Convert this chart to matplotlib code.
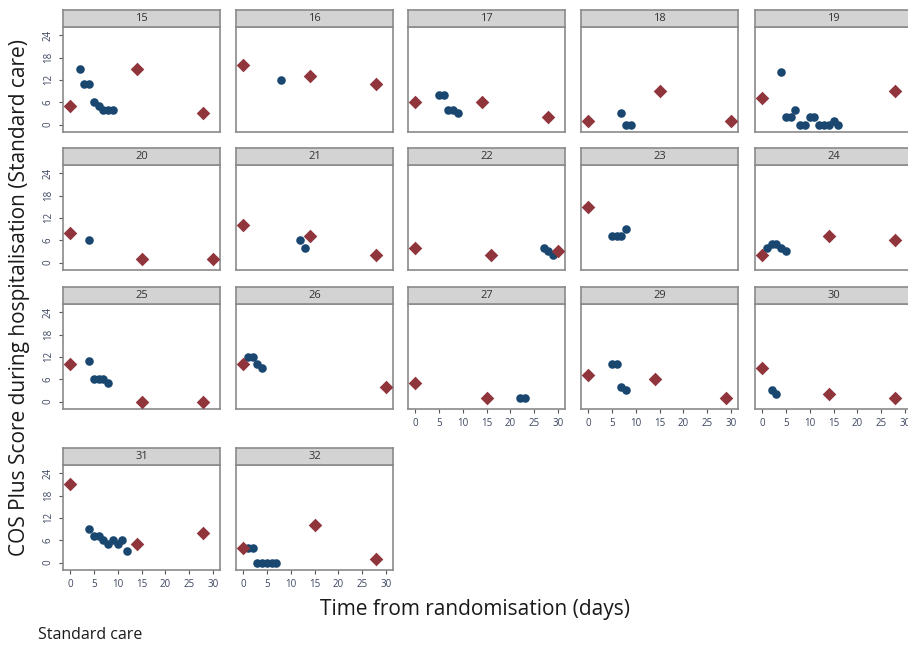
import matplotlib.pyplot as plt

# patient panels, in display order
patient_ids = [15, 16, 17, 18, 19, 20, 21, 22, 23, 24, 25, 26, 27, 29, 30, 31, 32]

# in-hospital scores (blue circles)
hosp_days = [
    [2, 3, 4, 5, 6, 7, 8, 9],
    [8],
    [5, 6, 7, 8, 9],
    [7, 8, 9],
    [4, 5, 6, 7, 8, 9, 10, 11, 12, 13, 14, 15, 16],
    [4],
    [12, 13],
    [27, 28, 29],
    [5, 6, 7, 8],
    [1, 2, 3, 4, 5],
    [4, 5, 6, 7, 8],
    [1, 2, 3, 4],
    [22, 23],
    [5, 6, 7, 8],
    [2, 3],
    [4, 5, 6, 7, 8, 9, 10, 11, 12],
    [1, 2, 3, 4, 5, 6, 7],
]
hosp_scores = [
    [15, 11, 11, 6, 5, 4, 4, 4],
    [12],
    [8, 8, 4, 4, 3],
    [3, 0, 0],
    [14, 2, 2, 4, 0, 0, 2, 2, 0, 0, 0, 1, 0],
    [6],
    [6, 4],
    [4, 3, 2],
    [7, 7, 7, 9],
    [4, 5, 5, 4, 3],
    [11, 6, 6, 6, 5],
    [12, 12, 10, 9],
    [1, 1],
    [10, 10, 4, 3],
    [3, 2],
    [9, 7, 7, 6, 5, 6, 5, 6, 3],
    [4, 4, 0, 0, 0, 0, 0],
]

# baseline / follow-up scores (red diamonds)
visit_days = [
    [0, 14, 28], [0, 14, 28], [0, 14, 28], [0, 15, 30], [0, 28],
    [0, 15, 30], [0, 14, 28], [0, 16, 30], [0], [0, 14, 28],
    [0, 15, 28], [0, 30], [0, 15], [0, 14, 29], [0, 14, 28],
    [0, 14, 28], [0, 15, 28],
]
visit_scores = [
    [5, 15, 3], [16, 13, 11], [6, 6, 2], [1, 9, 1], [7, 9],
    [8, 1, 1], [10, 7, 2], [4, 2, 3], [15], [2, 7, 6],
    [10, 0, 0], [10, 4], [5, 1], [7, 6, 1], [9, 2, 1],
    [21, 5, 8], [4, 10, 1],
]

y_ticks = [0, 6, 12, 18, 24]
x_ticks = [0, 5, 10, 15, 20, 25, 30]

navy = "#1a476f"
maroon = "#90353b"
frame = "#8a8a8a"

W, H = 908, 648
fig = plt.figure(figsize=(W / 100, H / 100), dpi=100)
plt.rcParams["font.family"] = ["Open Sans", "DejaVu Sans"]

col_left = [63, 236, 408, 581, 755]
row_top = [27, 165, 304, 465]   # top of plot area
plot_w, plot_h, strip_h = 157, 105, 17

# panels that carry x tick labels (bottom of each column)
bottom_panels = [27, 29, 30, 31, 32]

for i, pid in enumerate(patient_ids):
    r, c = divmod(i, 5)
    x0, y0 = col_left[c], row_top[r]
    ax = fig.add_axes([x0 / W, 1 - (y0 + plot_h) / H, plot_w / W, plot_h / H])
    ax.scatter(hosp_days[i], hosp_scores[i], s=38, color=navy, marker="o",
               linewidths=0, zorder=3)
    ax.scatter(visit_days[i], visit_scores[i], s=48, color=maroon, marker="D",
               linewidths=0, zorder=3)
    ax.set_xlim(-1.5, 31.5)
    ax.set_ylim(-2, 26.2)
    for s in ax.spines.values():
        s.set_color(frame)
        s.set_linewidth(1.2)
    ax.set_yticks(y_ticks)
    ax.set_xticks(x_ticks)
    ax.tick_params(colors="#555555", labelcolor="#3c4660", labelsize=7,
                   length=3, width=0.8)
    if c == 0:
        ax.set_yticklabels([str(v) for v in y_ticks], rotation=90, va="center")
    else:
        ax.tick_params(axis="y", left=False, labelleft=False)
    if pid in bottom_panels:
        ax.set_xticklabels([str(v) for v in x_ticks])
    else:
        ax.tick_params(axis="x", bottom=False, labelbottom=False)

    # strip header
    sax = fig.add_axes([x0 / W, 1 - y0 / H, plot_w / W, strip_h / H])
    sax.set_facecolor("#d3d3d3")
    sax.set_xticks([])
    sax.set_yticks([])
    for s in sax.spines.values():
        s.set_color(frame)
        s.set_linewidth(1.2)
    sax.text(0.5, 0.5, str(pid), ha="center", va="center", fontsize=8,
             color="#333333", transform=sax.transAxes)

fig.text(20 / W, 1 - 298 / H, "COS Plus Score during hospitalisation (Standard care)",
         rotation=90, ha="center", va="center", fontsize=15, color="#1a1a1a")
fig.text(475 / W, 1 - 609 / H, "Time from randomisation (days)",
         ha="center", va="center", fontsize=15, color="#1a1a1a")
fig.text(38 / W, 1 - 635 / H, "Standard care", ha="left", va="center",
         fontsize=11.5, color="#1a1a1a")

plt.savefig("out.png", dpi=100)
